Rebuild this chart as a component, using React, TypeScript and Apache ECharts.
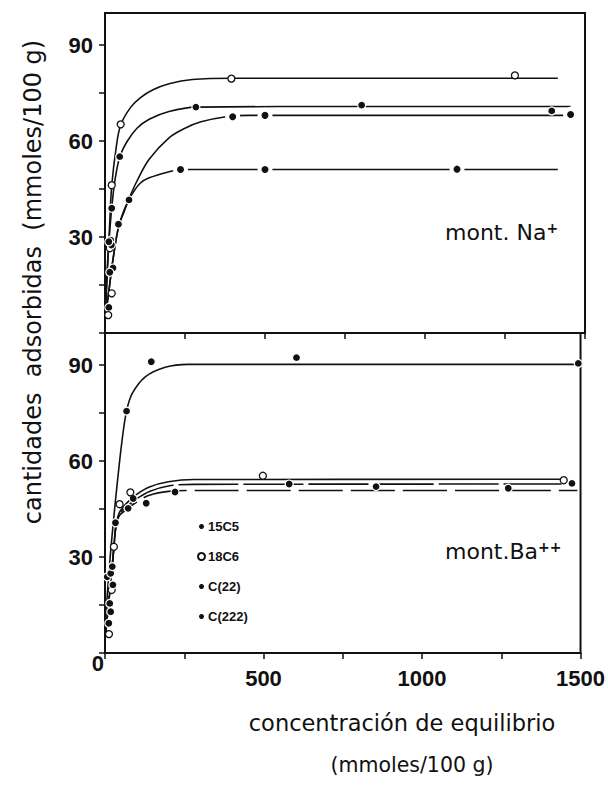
import React, { useEffect, useRef } from "react";
import * as echarts from "echarts";

// Compounds (legend order)
const compounds = ["15C5", "18C6", "C(22)", "C(222)"];

// Tick labels
const yTickLabels = [30, 60, 90];
const xTickLabels = [500, 1000, 1500];

// ---- mont. Na+ : experimental points [concentration, adsorbed] ----
const naPts15C5 = [[12, 8], [25, 20.3], [18, 29], [75, 41.6], [236, 51.1], [500, 51.1], [1100, 51.2]];
const naPts18C6 = [[10, 5.6], [21, 12.4], [15, 26.5], [21, 46.2], [49, 65.2], [395, 79.5], [1281, 80.5]];
const naPtsC22 = [[15, 19], [20, 27.5], [42, 34], [399, 67.6], [500, 68], [1455, 68.3]];
const naPtsC222 = [[12, 28.5], [21, 39], [46, 55.1], [284, 70.6], [802, 71.2], [1396, 69.4]];

// ---- mont. Na+ : fitted isotherms ----
const naFit15C5 = [[0, 4], [12, 13], [25, 23], [42, 33], [60, 38.5], [75, 41.6], [85, 43.5], [110, 46.8], [138, 48.5], [200, 50.4], [236, 51.1], [1415, 51.1]];
const naFit18C6 = [[0, 3], [8, 20], [15, 35], [21, 46], [35, 58], [49, 65], [80, 70.5], [110, 73.5], [150, 76], [200, 77.9], [273, 79.2], [400, 79.6], [1415, 79.6]];
const naFitC22 = [[0, 4], [12, 13], [25, 23], [42, 33], [60, 38], [75, 42], [100, 47.5], [138, 54.3], [200, 61], [250, 64], [300, 66], [378, 67.6], [450, 68], [1455, 68]];
const naFitC222 = [[0, 5], [8, 22], [15, 32], [21, 39], [30, 47], [46, 55], [70, 60], [100, 64], [138, 66.8], [200, 69.2], [284, 70.6], [800, 70.8], [1455, 70.8]];

// ---- mont. Ba++ : experimental points ----
const baPts15C5 = [[7, 23.8], [18, 24.9], [33, 40.7], [89, 48.3], [581, 52.8], [1473, 53]];
const baPts18C6 = [[12.5, 5.9], [21, 19.7], [28, 33.2], [46, 46.5], [80, 50.2], [498, 55.4], [1447, 54]];
const baPtsC22 = [[18, 12.9], [25, 21.3], [73, 45.2], [130, 46.8], [221, 50.3], [855, 52], [1272, 51.5]];
const baPtsC222 = [[12, 9.3], [15, 15.5], [23, 27], [68, 75.6], [146, 91], [604, 92.3], [1493, 90.5]];

// ---- mont. Ba++ : fitted isotherms ----
const baFit15C5 = [[0, 4], [10, 14], [20, 24], [28, 33], [35, 40], [46, 43.5], [70, 45.8], [100, 48.2], [140, 50.5], [200, 52.2], [280, 52.7], [1440, 52.8]];
const baFit18C6 = [[0, 4], [10, 14], [20, 24], [28, 33], [35, 40], [46, 44], [70, 47], [100, 49.6], [140, 51.9], [200, 53.5], [280, 54.2], [1440, 54.3]];
const baFitC22 = [[0, 4], [10, 14], [20, 24], [28, 33], [35, 40], [46, 43], [70, 45], [100, 47.2], [140, 49.3], [200, 50.5], [280, 50.8], [1490, 50.8]];
const baFitC222 = [[0, 8], [10, 22], [18, 32], [28, 42.6], [38.6, 53], [54, 66.6], [68, 75.6], [86, 81.1], [127, 86.3], [190, 89.3], [263, 90.2], [1495, 90.2]];

const INK = "#111";
const tickFont = '"Liberation Sans", Arial, sans-serif';
const titleFont = '"DejaVu Sans", Verdana, sans-serif';

const filledStyle = { color: INK, borderColor: "#fff", borderWidth: 1.2, opacity: 1 };
const openStyle = { color: "#fff", borderColor: INK, borderWidth: 1.3, opacity: 1 };
// white halo that breaks the curve around a plateau point
const haloStyle = { color: INK, borderColor: "#fff", borderWidth: 4, opacity: 1 };

function pointSeries(name: string, data: number[][], idx: number, open: boolean, halo = false) {
  return {
    type: "scatter",
    name,
    xAxisIndex: idx,
    yAxisIndex: idx,
    symbol: "circle",
    symbolSize: open ? 7 : 8,
    itemStyle: open ? openStyle : filledStyle,
    z: 5,
    data: data.map((p) =>
      halo && p[0] > 150 ? { value: p, symbolSize: 11, itemStyle: haloStyle } : p
    ),
  };
}

function curveSeries(name: string, data: number[][], idx: number, dash: any) {
  return {
    type: "line",
    name: name + " (ajuste)",
    xAxisIndex: idx,
    yAxisIndex: idx,
    showSymbol: false,
    symbol: "none",
    smooth: 0.35,
    lineStyle: { color: INK, width: 1.6, type: dash },
    z: 3,
    silent: true,
    data,
  };
}

function xAxis(idx: number, labels: boolean) {
  return {
    type: "value",
    gridIndex: idx,
    min: 0,
    max: 1500,
    interval: 250,
    axisLine: { show: true, onZero: false, lineStyle: { color: INK, width: 2 } },
    axisTick: { show: true, inside: false, length: 6, lineStyle: { color: INK, width: 1.5 } },
    splitLine: { show: false },
    axisLabel: {
      show: labels,
      margin: 14,
      color: INK,
      fontFamily: tickFont,
      fontSize: 22,
      fontWeight: "bold",
      formatter: (v: number) => (xTickLabels.includes(v) ? String(v) : ""),
    },
  };
}

function yAxis(idx: number, showZero: boolean) {
  return {
    type: "value",
    gridIndex: idx,
    min: 0,
    max: 100,
    interval: 15,
    axisLine: { show: true, onZero: false, lineStyle: { color: INK, width: 2 } },
    axisTick: { show: true, inside: false, length: 6, lineStyle: { color: INK, width: 1.5 } },
    splitLine: { show: false },
    axisLabel: {
      showMaxLabel: false,
      margin: 12,
      color: INK,
      fontFamily: tickFont,
      fontSize: 22,
      fontWeight: "bold",
      formatter: (v: number) => {
        if (yTickLabels.includes(v)) return String(v);
        if (showZero && v === 0) return "{z|0}";
        return "";
      },
      rich: {
        z: { fontFamily: tickFont, fontSize: 22, fontWeight: "bold", color: INK, padding: [20, -11, 0, 0] },
      },
    },
  };
}

const option: any = {
  animation: false,
  backgroundColor: "#fff",
  grid: [
    { left: 105, top: 13, width: 480, height: 320, show: true, borderColor: INK, borderWidth: 2 },
    { left: 105, top: 333, width: 480, height: 320, show: true, borderColor: INK, borderWidth: 2 },
  ],
  xAxis: [xAxis(0, false), xAxis(1, true)],
  yAxis: [yAxis(0, false), yAxis(1, true)],
  legend: {
    data: compounds,
    orient: "vertical",
    left: 192,
    top: 515,
    itemGap: 17,
    itemWidth: 7,
    itemHeight: 7,
    icon: "circle",
    selectedMode: false,
    textStyle: { fontFamily: tickFont, fontSize: 13, fontWeight: "bold", color: INK, padding: [0, 0, 0, -2] },
  },
  graphic: [
    {
      type: "text",
      x: 445,
      y: 232,
      style: {
        text: "{a|mont. Na}{s|+}",
        verticalAlign: "middle",
        rich: {
          a: { fontFamily: titleFont, fontSize: 22, fill: INK },
          s: { fontFamily: titleFont, fontSize: 14, fill: INK, verticalAlign: "top", fontWeight: "bold" },
        },
      },
    },
    {
      type: "text",
      x: 445,
      y: 551,
      style: {
        text: "{a|mont.Ba}{s|++}",
        verticalAlign: "middle",
        rich: {
          a: { fontFamily: titleFont, fontSize: 22, fill: INK },
          s: { fontFamily: titleFont, fontSize: 14, fill: INK, verticalAlign: "top", fontWeight: "bold" },
        },
      },
    },
    {
      type: "text",
      x: 33,
      y: 282,
      rotation: Math.PI / 2,
      style: {
        text: "cantidades  adsorbidas  (mmoles/100 g)",
        align: "center",
        verticalAlign: "middle",
        fontFamily: titleFont,
        fontSize: 24,
        fill: INK,
      },
    },
    {
      type: "text",
      x: 402,
      y: 723,
      style: {
        text: "concentración de equilibrio",
        align: "center",
        verticalAlign: "middle",
        fontFamily: titleFont,
        fontSize: 22.5,
        fill: INK,
      },
    },
    {
      type: "text",
      x: 412,
      y: 765,
      style: {
        text: "(mmoles/100 g)",
        align: "center",
        verticalAlign: "middle",
        fontFamily: titleFont,
        fontSize: 20.5,
        fill: INK,
      },
    },
  ],
  series: [
    // mont. Na+
    curveSeries("18C6 Na", naFit18C6, 0, "solid"),
    curveSeries("C(222) Na", naFitC222, 0, "solid"),
    curveSeries("C(22) Na", naFitC22, 0, "solid"),
    curveSeries("15C5 Na", naFit15C5, 0, "solid"),
    pointSeries("15C5", naPts15C5, 0, false, true),
    pointSeries("18C6", naPts18C6, 0, true),
    pointSeries("C(22)", naPtsC22, 0, false, true),
    pointSeries("C(222)", naPtsC222, 0, false),
    // mont. Ba++
    curveSeries("C(222) Ba", baFitC222, 1, "solid"),
    curveSeries("18C6 Ba", baFit18C6, 1, "solid"),
    curveSeries("15C5 Ba", baFit15C5, 1, [60, 5]),
    curveSeries("C(22) Ba", baFitC22, 1, [44, 8]),
    pointSeries("15C5", baPts15C5, 1, false),
    pointSeries("18C6", baPts18C6, 1, true),
    pointSeries("C(22)", baPtsC22, 1, false),
    pointSeries("C(222)", baPtsC222, 1, false),
  ],
};

export default function App() {
  const ref = useRef<HTMLDivElement>(null);
  useEffect(() => {
    const chart = echarts.init(ref.current as HTMLDivElement, null, { renderer: "svg" });
    chart.setOption(option);
    return () => chart.dispose();
  }, []);
  return (
    <div
      ref={ref}
      style={{ position: "absolute", left: 0, top: 0, width: 608, height: 785, background: "#fff" }}
    />
  );
}
